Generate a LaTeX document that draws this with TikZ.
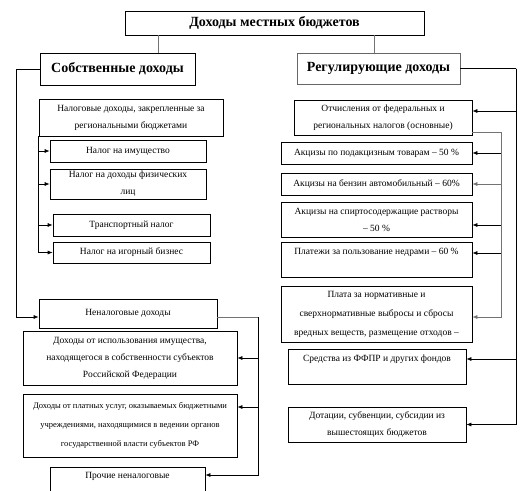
\documentclass[tikz,border=0pt]{standalone}
\usepackage{fontspec}
\setmainfont{Liberation Serif}
\usetikzlibrary{arrows.meta}
\tikzset{
  box/.style={draw, rectangle, inner sep=0pt, align=center, line width=0.7pt, font=\fontsize{9.5}{17}\selectfont},
  headbox/.style={box, font=\fontsize{14}{16}\bfseries},
  link/.style={line width=0.7pt},
  greylink/.style={line width=0.7pt, draw=black!55},
  arr/.style={link, -{Latex[length=5pt,width=4pt]}},
  greyarr/.style={greylink, -{Latex[length=5pt,width=4pt]}}
}
\begin{document}
\begin{tikzpicture}[x=1pt,y=-1pt]
\useasboundingbox (0,0) rectangle (530,490);
\clip (0,0) rectangle (530,490);
\node (top) at (274.5,23) [headbox, minimum width=299, minimum height=24]{Доходы местных бюджетов};
\node (own) at (117.5,69) [headbox, minimum width=155, minimum height=32]{Собственные доходы};
\node (reg) at (378.5,68.5) [headbox, draw=black!60, minimum width=163, minimum height=31]{Регулирующие доходы};
\draw[greylink] ([xshift=40.5pt]own.north) -- ([xshift=40.5pt]own.north |- top.south);
\draw[greylink] ([xshift=-4.5pt]reg.north) -- ([xshift=-4.5pt]reg.north |- top.south);
\node (taxown) at (131,117.5) [box, minimum width=184, minimum height=37]{Налоговые доходы, закрепленные за\\региональными бюджетами};
\node (t1) at (128,151) [box, minimum width=156, minimum height=22]{Налог на имущество};
\node (t2) at (128,184) [box, minimum width=156, minimum height=30]{Налог на доходы физических\\лиц};
\node (t3) at (131.5,225) [box, minimum width=157, minimum height=22]{Транспортный налог};
\node (t4) at (131.5,252.5) [box, minimum width=157, minimum height=21]{Налог на игорный бизнес};
\draw[arr] (taxown.south west) |- (t1.west);
\draw[arr] (taxown.south west) |- (t2.west);
\draw[arr] (taxown.south west) |- (t3.west);
\draw[arr] (taxown.south west) |- (t4.west);
\node (nontax) at (128,313.5) [box, minimum width=178, minimum height=29]{Неналоговые доходы};
\draw[arr] (own.west) -- ++(-23,0) |- ([yshift=-3.5pt]nontax.west);
\node (use1) at (130,358) [box, minimum width=214, minimum height=54]{Доходы от использования имущества,\\находящегося в собственности субъектов\\Российской Федерации};
\node (use2) at (130,425.5) [box, font=\fontsize{8.5}{19}\selectfont, minimum width=214, minimum height=63]{Доходы от платных услуг, оказываемых бюджетными\\учреждениями, находящимися в ведении органов\\государственной власти субъектов РФ};
\node (other) at (127.5,483.5) [box, minimum width=155, minimum height=33]{Прочие неналоговые\\\mbox{}};
\draw[greylink] ([yshift=-3.5pt]nontax.east) -- ++(41,0) coordinate (lbus);
\draw[arr] (lbus) |- (use1.east);
\draw[arr] (lbus) |- ([yshift=18.5pt]use2.east);
\draw[arr] (lbus) |- ([yshift=8.5pt]other.east);
\node (ded) at (383,117.5) [box, minimum width=178, minimum height=35]{Отчисления от федеральных и\\региональных налогов (основные)};
\node (a1) at (376.5,153) [box, minimum width=191, minimum height=22]{Акцизы по подакцизным товарам – 50 \%};
\node (a2) at (376.5,184) [box, minimum width=191, minimum height=22]{Акцизы на бензин автомобильный – 60\%};
\node (a3) at (376.5,219.5) [box, minimum width=191, minimum height=35]{Акцизы на спиртосодержащие растворы\\– 50 \%};
\node (a4) at (376.5,259.5) [box, minimum width=191, minimum height=35]{Платежи за пользование недрами – 60 \%\\\mbox{}};
\node (plata) at (376.5,314) [box, font=\fontsize{9.5}{19}\selectfont, minimum width=191, minimum height=56]{Плата за нормативные и\\сверхнормативные выбросы и сбросы\\вредных веществ, размещение отходов –};
\node (ffpr) at (377,366.5) [box, minimum width=178, minimum height=35]{Средства из ФФПР и других фондов\\\mbox{}};
\node (dot) at (377,424.5) [box, minimum width=178, minimum height=35]{Дотации, субвенции, субсидии из\\вышестоящих бюджетов};
\draw[link] (reg.east) -- ++(56,0) coordinate (rbus);
\draw[arr] (rbus) |- ([yshift=6.5pt]ded.east);
\draw[arr] (rbus) |- ([yshift=7.5pt]ffpr.east);
\draw[arr] (rbus) |- (dot.east);
\draw[greylink] ([yshift=3pt]ded.south east) -- ++(29,0) coordinate (ibus);
\draw[arr] (ibus) |- (a1.east);
\draw[greyarr] (ibus) |- (a2.east);
\draw[arr] (ibus) |- ([yshift=-5.5pt]a3.east);
\draw[arr] (ibus) |- ([yshift=6.5pt]a4.east);
\draw[greyarr] (ibus) |- ([yshift=-3pt]plata.east);
\end{tikzpicture}
\end{document}
